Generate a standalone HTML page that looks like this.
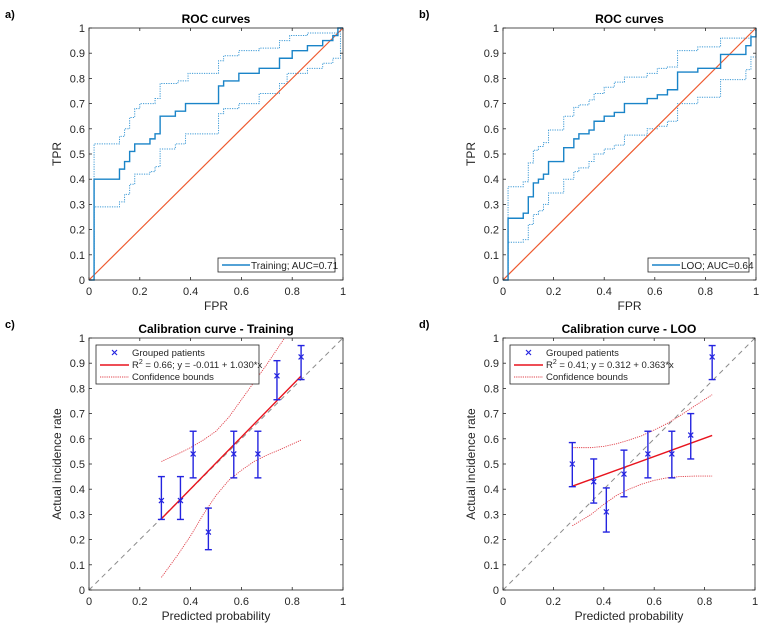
<!DOCTYPE html>
<html><head><meta charset="utf-8">
<style>
html,body{margin:0;padding:0;background:#fff;}
svg{display:block;font-family:"Liberation Sans",Arial,sans-serif;}
</style></head>
<body>
<svg id="fig" width="764" height="627" viewBox="0 0 764 627" xmlns="http://www.w3.org/2000/svg"></svg>
<script>
// ---- Panel a data (ROC training) step curves: x breakpoints and y levels
const rocA_x = [0.02,0.12,0.14,0.16,0.18,0.24,0.26,0.28,0.34,0.38,0.51,0.53,0.59,0.67,0.75,0.80,0.86,0.92,0.96,0.98,1.0];
const rocA_y = [0.40,0.44,0.47,0.51,0.54,0.56,0.58,0.65,0.67,0.70,0.77,0.79,0.82,0.84,0.88,0.91,0.93,0.95,0.97,1.0,1.0];
const rocAUp_x = [0.02,0.12,0.14,0.16,0.18,0.20,0.26,0.28,0.29,0.35,0.39,0.51,0.53,0.59,0.67,0.75,0.79,0.86,0.98,1.0];
const rocAUp_y = [0.54,0.57,0.60,0.645,0.68,0.70,0.72,0.78,0.78,0.79,0.82,0.87,0.89,0.91,0.92,0.95,0.97,0.98,1.0,1.0];
const rocALo_x = [0.02,0.12,0.14,0.16,0.18,0.24,0.26,0.28,0.34,0.38,0.51,0.53,0.59,0.67,0.75,0.78,0.86,0.92,0.96,0.99,1.0];
const rocALo_y = [0.29,0.31,0.34,0.38,0.42,0.43,0.45,0.52,0.54,0.58,0.66,0.68,0.70,0.74,0.78,0.82,0.84,0.86,0.88,1.0,1.0];
// ---- Panel b data (ROC LOO)
const rocB_x = [0.02,0.08,0.10,0.12,0.14,0.16,0.18,0.24,0.28,0.30,0.34,0.36,0.40,0.44,0.48,0.57,0.61,0.65,0.69,0.77,0.86,0.96,0.98,1.0];
const rocB_y = [0.245,0.265,0.33,0.385,0.40,0.42,0.47,0.525,0.56,0.58,0.595,0.63,0.65,0.665,0.70,0.72,0.735,0.755,0.825,0.84,0.895,0.93,0.965,1.0];
const rocBUp_x = [0.02,0.08,0.10,0.12,0.14,0.16,0.18,0.24,0.28,0.30,0.34,0.36,0.40,0.44,0.48,0.57,0.61,0.65,0.69,0.77,0.86,0.98,1.0];
const rocBUp_y = [0.37,0.39,0.465,0.515,0.53,0.545,0.595,0.65,0.685,0.695,0.715,0.74,0.765,0.785,0.805,0.82,0.84,0.845,0.91,0.925,0.96,0.99,1.0];
const rocBLo_x = [0.02,0.08,0.10,0.12,0.14,0.16,0.18,0.24,0.28,0.30,0.34,0.36,0.40,0.44,0.48,0.57,0.61,0.65,0.69,0.77,0.86,0.96,0.98,1.0];
const rocBLo_y = [0.15,0.16,0.22,0.26,0.275,0.30,0.345,0.40,0.43,0.445,0.47,0.50,0.52,0.535,0.575,0.60,0.61,0.63,0.70,0.725,0.795,0.835,0.885,0.885];
// ---- Panel c data (calibration training)
const calC_x = [0.285,0.36,0.41,0.47,0.57,0.665,0.74,0.835];
const calC_y = [0.355,0.355,0.54,0.23,0.54,0.54,0.85,0.925];
const calC_lo = [0.28,0.28,0.445,0.16,0.445,0.445,0.755,0.835];
const calC_hi = [0.45,0.45,0.63,0.325,0.63,0.63,0.91,0.97];
const fitC = [-0.011,1.030];
const fitC_range = [0.285,0.835];
const ciC_x = [0.285,0.35,0.40,0.45,0.50,0.55,0.60,0.65,0.70,0.74,0.77];
const ciC_up = [0.51,0.54,0.565,0.595,0.63,0.685,0.755,0.825,0.895,0.955,1.0];
const ciCLo_x = [0.285,0.35,0.40,0.45,0.50,0.55,0.60,0.65,0.70,0.77,0.835];
const ciC_lo = [0.05,0.14,0.215,0.30,0.375,0.435,0.475,0.51,0.535,0.565,0.595];
// ---- Panel d data (calibration LOO)
const calD_x = [0.275,0.36,0.41,0.48,0.575,0.67,0.745,0.83];
const calD_y = [0.50,0.43,0.31,0.46,0.54,0.54,0.615,0.925];
const calD_lo = [0.41,0.345,0.23,0.37,0.445,0.445,0.52,0.835];
const calD_hi = [0.585,0.52,0.405,0.555,0.63,0.63,0.70,0.97];
const fitD = [0.312,0.363];
const fitD_range = [0.275,0.83];
const ciD_x = [0.275,0.35,0.40,0.45,0.50,0.55,0.60,0.65,0.70,0.76,0.83];
const ciD_up = [0.565,0.565,0.57,0.58,0.595,0.612,0.635,0.66,0.69,0.73,0.775];
const ciD_lo = [0.255,0.30,0.34,0.375,0.40,0.42,0.435,0.445,0.45,0.452,0.452];
const ticks = [0,0.1,0.2,0.3,0.4,0.5,0.6,0.7,0.8,0.9,1];
const xticks = [0,0.2,0.4,0.6,0.8,1];

const NS="http://www.w3.org/2000/svg";
const svg=document.getElementById('fig');
function el(tag,attrs,parent){const e=document.createElementNS(NS,tag);for(const k in attrs)e.setAttribute(k,attrs[k]);(parent||svg).appendChild(e);return e;}
function txt(s,attrs,parent){const e=el('text',attrs,parent);e.textContent=s;return e;}

function makeAxes(L,R,T,B,name){
  const g=el('g',{});
  
  
  const sx=v=>L+v*(R-L), sy=v=>B-v*(B-T);
  return {g,sx,sy,L,R,T,B};
}
function frame(ax,title,xl,yl,label){
  const {g,sx,sy,L,R,T,B}=ax;
  const fr=el('rect',{x:L,y:T,width:R-L,height:B-T,fill:'none',stroke:'#262626','stroke-width':0.8},g);
  
  
  const tl=3;
  ticks.forEach(v=>{
    const y=sy(v);
    el('line',{x1:L,x2:L+tl,y1:y,y2:y,stroke:'#262626','stroke-width':0.8},g);
    el('line',{x1:R,x2:R-tl,y1:y,y2:y,stroke:'#262626','stroke-width':0.8},g);
    const t=txt(String(v),{x:L-4,y:y+4,'font-size':11,'text-anchor':'end',fill:'#262626'},g);
    
    
  });
  xticks.forEach(v=>{
    const x=sx(v);
    el('line',{x1:x,x2:x,y1:B,y2:B-tl,stroke:'#262626','stroke-width':0.8},g);
    el('line',{x1:x,x2:x,y1:T,y2:T+tl,stroke:'#262626','stroke-width':0.8},g);
    const t=txt(String(v),{x:x,y:B+15,'font-size':11,'text-anchor':'middle',fill:'#262626'},g);
    
    
  });
  const tt=txt(title,{x:(L+R)/2,y:T-5,'font-size':12,'font-weight':'bold','text-anchor':'middle',fill:'#000'},g);
  
  
  const xa=txt(xl,{x:(L+R)/2,y:B+30,'font-size':12,'text-anchor':'middle',fill:'#262626'},g);
  
  
  const ya=txt(yl,{x:0,y:0,'font-size':12,'text-anchor':'middle',fill:'#262626',transform:`translate(${L-28},${(T+B)/2}) rotate(-90)`},g);
  
  
  const pl=txt(label,{x:L-84,y:T-10,'font-size':11,'font-weight':'bold',fill:'#000'},g);
  
  
}
function stair(ax,xs,ys,attrs,name){
  let d=`M${ax.sx(0)},${ax.sy(0)}`;
  for(let i=0;i<xs.length;i++){d+=` H${ax.sx(xs[i])} V${ax.sy(ys[i])}`;}
  const p=el('path',Object.assign({d,fill:'none'},attrs),ax.g);
  
  
}
function poly(ax,xs,ys,attrs,name){
  const pts=xs.map((x,i)=>ax.sx(x)+','+ax.sy(ys[i])).join(' ');
  const p=el('polyline',Object.assign({points:pts,fill:'none'},attrs),ax.g);
  
  
}

function rocPanel(L,R,T,B,label,sx,sy,ux,uy,lx,ly,legendText,lg){
  const ax=makeAxes(L,R,T,B,'roc-panel-'+label);
  stair(ax,ux,uy,{stroke:'#3d9ad6','stroke-width':1,'stroke-dasharray':'1.2,1.2'},'roc-upper-bound');
  stair(ax,lx,ly,{stroke:'#3d9ad6','stroke-width':1,'stroke-dasharray':'1.2,1.2'},'roc-lower-bound');
  const d=el('line',{x1:ax.sx(0),y1:ax.sy(0),x2:ax.sx(1),y2:ax.sy(1),stroke:'#ee5a2f','stroke-width':1.2},ax.g);
  
  
  stair(ax,sx,sy,{stroke:'#1a84c8','stroke-width':1.4},'roc-curve');
  frame(ax,'ROC curves','FPR','TPR',label+')');
  const lgG=el('g',{},ax.g);
  
  
  el('rect',{x:lg[0],y:258,width:lg[1],height:14,fill:'#fff',stroke:'#262626','stroke-width':0.8},lgG);
  el('line',{x1:lg[0]+4,x2:lg[0]+32,y1:265,y2:265,stroke:'#1a84c8','stroke-width':1.4},lgG);
  const t=txt(legendText,{x:lg[0]+33,y:269,'font-size':10,fill:'#262626'},lgG);
  
  
}
rocPanel(89,343,28,280,'a',rocA_x,rocA_y,rocAUp_x,rocAUp_y,rocALo_x,rocALo_y,'Training; AUC=0.71',[218,117]);
rocPanel(503,756,28,280,'b',rocB_x,rocB_y,rocBUp_x,rocBUp_y,rocBLo_x,rocBLo_y,'LOO; AUC=0.64',[648,101]);

function calPanel(L,R,T,B,label,title,xs,ys,lo,hi,fit,fr,cux,cu,clx,cl,eq,lgW){
  const ax=makeAxes(L,R,T,B,'calibration-panel-'+label);
  const dg=el('line',{x1:ax.sx(0),y1:ax.sy(0),x2:ax.sx(1),y2:ax.sy(1),stroke:'#8c8c8c','stroke-width':1,'stroke-dasharray':'5,4'},ax.g);
  
  
  poly(ax,cux,cu,{stroke:'#e0404a','stroke-width':0.9,'stroke-dasharray':'1.2,1'},'upper-confidence-bound');
  poly(ax,clx,cl,{stroke:'#e0404a','stroke-width':0.9,'stroke-dasharray':'1.2,1'},'lower-confidence-bound');
  const fl=el('line',{x1:ax.sx(fr[0]),y1:ax.sy(fit[0]+fit[1]*fr[0]),x2:ax.sx(fr[1]),y2:ax.sy(fit[0]+fit[1]*fr[1]),stroke:'#e8141e','stroke-width':1.4},ax.g);
  
  
  xs.forEach((x,i)=>{
    const g=el('g',{},ax.g);
    
    
    const X=ax.sx(x),Y=ax.sy(ys[i]),yl=ax.sy(lo[i]),yh=ax.sy(hi[i]);
    el('line',{x1:X,x2:X,y1:yl,y2:yh,stroke:'#2424e0','stroke-width':1.4},g);
    el('line',{x1:X-3.5,x2:X+3.5,y1:yl,y2:yl,stroke:'#2424e0','stroke-width':1.4},g);
    el('line',{x1:X-3.5,x2:X+3.5,y1:yh,y2:yh,stroke:'#2424e0','stroke-width':1.4},g);
    el('path',{d:`M${X-2.5},${Y-2.5}L${X+2.5},${Y+2.5}M${X-2.5},${Y+2.5}L${X+2.5},${Y-2.5}`,stroke:'#2424e0','stroke-width':1.2},g);
  });
  frame(ax,title,'Predicted probability','Actual incidence rate',label+')');
  const lx=L+7;
  const lgG=el('g',{},ax.g);
  
  
  el('rect',{x:lx,y:345,width:lgW,height:39,fill:'#fff',stroke:'#262626','stroke-width':0.8},lgG);
  el('path',{d:`M${lx+16},${350}L${lx+21},${355}M${lx+16},${355}L${lx+21},${350}`,stroke:'#2424e0','stroke-width':1.2},lgG);
  const t1=txt('Grouped patients',{x:lx+36,y:356,'font-size':9.5,fill:'#262626'},lgG);
  
  
  el('line',{x1:lx+4,x2:lx+33,y1:365,y2:365,stroke:'#e8141e','stroke-width':1.4},lgG);
  const t2=el('text',{x:lx+36,y:368,'font-size':9.5,fill:'#262626'},lgG);
  t2.innerHTML='R<tspan dy="-4" font-size="7">2</tspan><tspan dy="4">'+eq+'</tspan>';
  
  
  el('line',{x1:lx+4,x2:lx+33,y1:377,y2:377,stroke:'#e0404a','stroke-width':0.9,'stroke-dasharray':'1.2,1'},lgG);
  const t3=txt('Confidence bounds',{x:lx+36,y:380,'font-size':9.5,fill:'#262626'},lgG);
  
  
}
calPanel(89,343,338,590,'c','Calibration curve - Training',calC_x,calC_y,calC_lo,calC_hi,fitC,fitC_range,ciC_x,ciC_up,ciCLo_x,ciC_lo,' = 0.66; y = -0.011 + 1.030*x',163);
calPanel(503,755,338,590,'d','Calibration curve - LOO',calD_x,calD_y,calD_lo,calD_hi,fitD,fitD_range,ciD_x,ciD_up,ciD_x,ciD_lo,' = 0.41; y = 0.312 + 0.363*x',159);
</script>
</body></html>
